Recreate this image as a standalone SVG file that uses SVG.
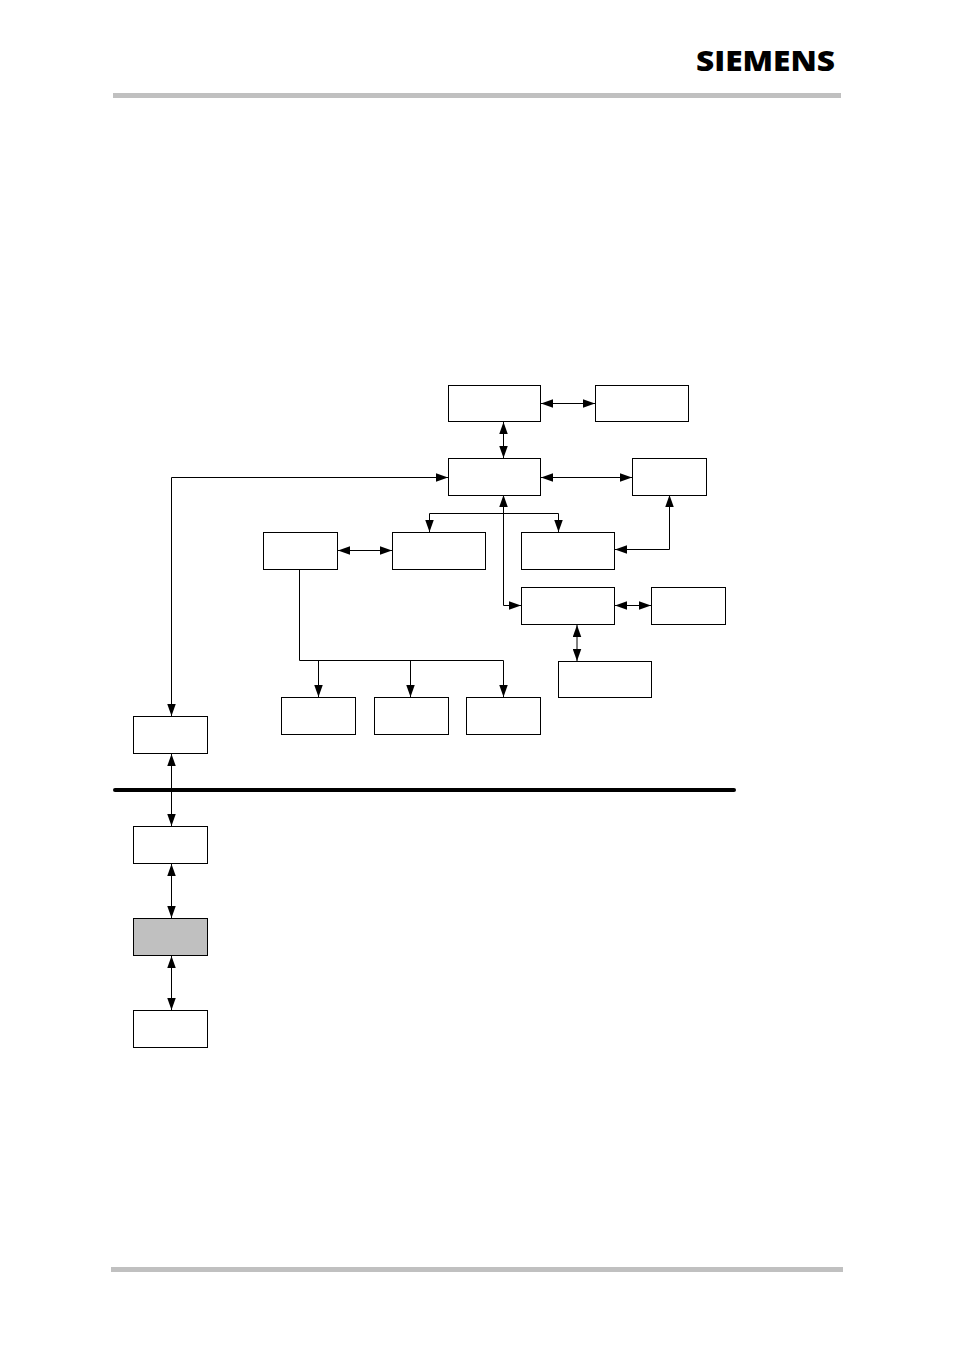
<svg xmlns="http://www.w3.org/2000/svg" width="954" height="1351" viewBox="0 0 954 1351">
<style>
.box{fill:#fff;stroke:#000;stroke-width:1}
.shade{fill:#c0c0c0}
.bar{fill:#c0c0c0}
.conn{fill:none;stroke:#000;stroke-width:1}
.both{marker-start:url(#arrow);marker-end:url(#arrow)}
.end{marker-end:url(#arrow)}
.logo{font-family:"Open Sans","Liberation Sans",sans-serif;font-weight:800;font-size:29px;fill:#000}
</style>
<defs>
<marker id="arrow" markerUnits="userSpaceOnUse" markerWidth="12" markerHeight="9" refX="12" refY="4.500" orient="auto-start-reverse">
<path d="M0 0.250L12 4.500L0 8.750Z" fill="#000"/>
</marker>
</defs>
<rect width="954" height="1351" fill="#fff"/>
<rect class="bar" x="113" y="93" width="728" height="5"/>
<rect class="bar" x="111" y="1267" width="732" height="5"/>
<text class="logo" x="696" y="71" textLength="139" lengthAdjust="spacingAndGlyphs">SIEMENS</text>
<g id="connectors">
<path class="conn both" d="M541 403.500H595"/>
<path class="conn both" d="M503.500 422V458"/>
<path class="conn both" d="M541 477.500H632"/>
<path class="conn both" d="M448 477.500H171.500V716"/>
<path class="conn both" d="M429.500 532V513.500H558.500V532"/>
<path class="conn both" d="M503.500 495V605.500H521"/>
<path class="conn both" d="M669.500 495V549.500H615"/>
<path class="conn both" d="M338 550.500H392"/>
<path class="conn" d="M299.500 569V660.500H503.500"/>
<path class="conn end" d="M318.500 660.500V697"/>
<path class="conn end" d="M410.500 660.500V697"/>
<path class="conn end" d="M503.500 660.500V697"/>
<path class="conn both" d="M615 605.500H651"/>
<path class="conn both" d="M577 625V661"/>
<path class="conn both" d="M171.500 754V826"/>
<path class="conn both" d="M171.500 864V918"/>
<path class="conn both" d="M171.500 956V1010"/>
</g>
<path id="bus" d="M115 790H734" fill="none" stroke="#000" stroke-width="4" stroke-linecap="round"/>
<g id="n1"><rect class="box" x="448.500" y="385.500" width="92" height="36"/></g>
<g id="n2"><rect class="box" x="595.500" y="385.500" width="93" height="36"/></g>
<g id="n3"><rect class="box" x="448.500" y="458.500" width="92" height="37"/></g>
<g id="n4"><rect class="box" x="632.500" y="458.500" width="74" height="37"/></g>
<g id="n5"><rect class="box" x="263.500" y="532.500" width="74" height="37"/></g>
<g id="n6"><rect class="box" x="392.500" y="532.500" width="93" height="37"/></g>
<g id="n7"><rect class="box" x="521.500" y="532.500" width="93" height="37"/></g>
<g id="n8"><rect class="box" x="521.500" y="587.500" width="93" height="37"/></g>
<g id="n9"><rect class="box" x="651.500" y="587.500" width="74" height="37"/></g>
<g id="n10"><rect class="box" x="558.500" y="661.500" width="93" height="36"/></g>
<g id="n11"><rect class="box" x="281.500" y="697.500" width="74" height="37"/></g>
<g id="n12"><rect class="box" x="374.500" y="697.500" width="74" height="37"/></g>
<g id="n13"><rect class="box" x="466.500" y="697.500" width="74" height="37"/></g>
<g id="n14"><rect class="box" x="133.500" y="716.500" width="74" height="37"/></g>
<g id="n15"><rect class="box" x="133.500" y="826.500" width="74" height="37"/></g>
<g id="n16"><rect class="box shade" x="133.500" y="918.500" width="74" height="37"/></g>
<g id="n17"><rect class="box" x="133.500" y="1010.500" width="74" height="37"/></g>
</svg>
